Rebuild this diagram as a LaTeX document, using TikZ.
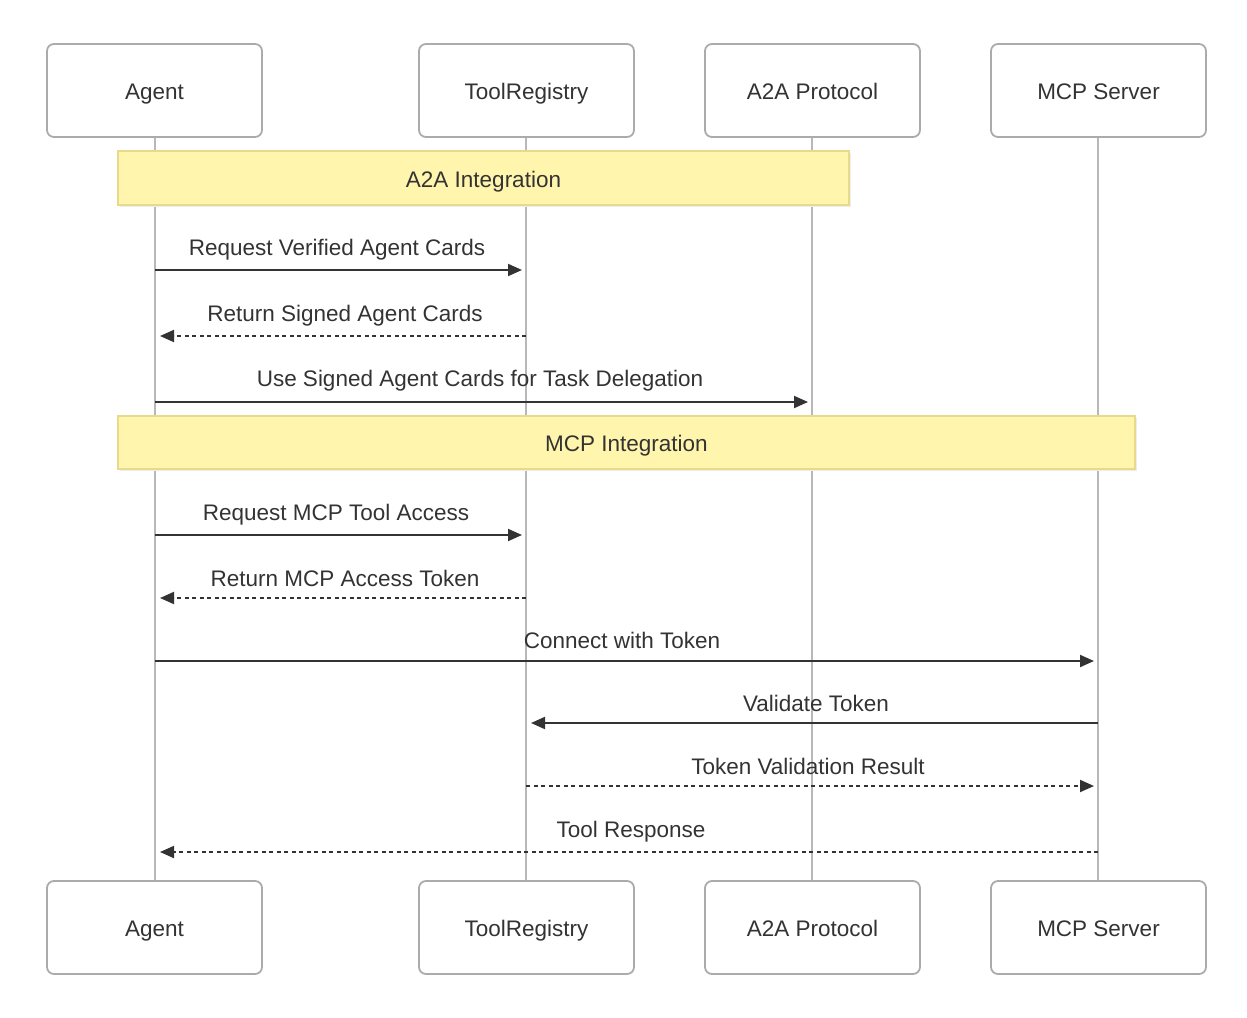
\documentclass[tikz,border=0pt]{standalone}
\usepackage{fontspec}
\setmainfont{Liberation Sans}
\usetikzlibrary{arrows.meta}
\definecolor{boxline}{HTML}{ABABAB}
\definecolor{lifeline}{HTML}{B8B8B8}
\definecolor{notefill}{HTML}{FFF5AD}
\definecolor{noteline}{HTML}{E8DA8A}
\definecolor{msg}{HTML}{333333}
\definecolor{txt}{HTML}{333333}
\newcommand{\dfont}{\fontsize{22.5}{27}\selectfont}
\tikzset{
  actor/.style={draw=boxline, line width=1.8pt, fill=white, rounded corners=7pt, minimum width=215pt, minimum height=93pt, inner sep=0pt, text height=19pt, text depth=1pt, font=\dfont, text=txt},
  notebox/.style={draw=noteline, line width=1.2pt, fill=notefill, inner sep=0pt, text height=19pt, text depth=1pt, font=\dfont, text=txt},
  life/.style={draw=lifeline, line width=1.7pt},
  msgline/.style={draw=msg, line width=2pt, -{Triangle[length=14pt,width=12pt]}},
  reply/.style={msgline, dash pattern=on 4pt off 3.5pt},
  lbl/.style={font=\dfont, text=txt, anchor=base, inner sep=0pt}
}
\begin{document}
\begin{tikzpicture}[x=1pt,y=-1pt]
\useasboundingbox (0,0) rectangle (1247,1017);
% lifeline coordinates
\foreach \n/\x in {a/155, t/526, p/812, m/1098}{
  \coordinate (\n0) at (\x,137);
  \coordinate (\n1) at (\x,881);
}
\draw[life] (a0) -- (a1);
\draw[life] (t0) -- (t1);
\draw[life] (p0) -- (p1);
\draw[life] (m0) -- (m1);
% actors
\node[actor] (agentT) at (154.5,90.5) {Agent};
\node[actor] (regT) at (526.5,90.5) {ToolRegistry};
\node[actor] (a2aT) at (812.5,90.5) {A2A Protocol};
\node[actor] (mcpT) at (1098.5,90.5) {MCP Server};
\node[actor] (agentB) at (154.5,927.5) {Agent};
\node[actor] (regB) at (526.5,927.5) {ToolRegistry};
\node[actor] (a2aB) at (812.5,927.5) {A2A Protocol};
\node[actor] (mcpB) at (1098.5,927.5) {MCP Server};
% notes
\fill[black!7] (120,153) rectangle (851,207);
\node[notebox, minimum width=731pt, minimum height=54pt] (n1) at (483.5,178) {A2A Integration};
\fill[black!7] (120,418) rectangle (1137,471);
\node[notebox, minimum width=1017pt, minimum height=53pt] (n2) at (626.5,442.5) {MCP Integration};
% message endpoints
\foreach \n/\y in {1/270, 2/336, 3/402, 4/535, 5/598, 6/661, 7/723, 8/786, 9/852}{
  \coordinate (A\n) at (155,\y);
  \coordinate (Al\n) at (160,\y);
  \coordinate (T\n) at (526,\y);
  \coordinate (Tr\n) at (522,\y);
  \coordinate (Tl\n) at (531,\y);
  \coordinate (P\n) at (808,\y);
  \coordinate (M\n) at (1098,\y);
  \coordinate (Mr\n) at (1094,\y);
}
\draw[msgline] (A1) -- (Tr1);
\node[lbl] (l1) at (337,255) {Request Verified Agent Cards};
\draw[reply] (T2) -- (Al2);
\node[lbl] (l2) at (345,321) {Return Signed Agent Cards};
\draw[msgline] (A3) -- (P3);
\node[lbl] (l3) at (480,386) {Use Signed Agent Cards for Task Delegation};
\draw[msgline] (A4) -- (Tr4);
\node[lbl] (l4) at (336,520) {Request MCP Tool Access};
\draw[reply] (T5) -- (Al5);
\node[lbl] (l5) at (345,586) {Return MCP Access Token};
\draw[msgline] (A6) -- (Mr6);
\node[lbl] (l6) at (622,648) {Connect with Token};
\draw[msgline] (M7) -- (Tl7);
\node[lbl] (l7) at (816,711) {Validate Token};
\draw[reply] (T8) -- (Mr8);
\node[lbl] (l8) at (808,774) {Token Validation Result};
\draw[reply] (M9) -- (Al9);
\node[lbl] (l9) at (631,837) {Tool Response};
\end{tikzpicture}
\end{document}
